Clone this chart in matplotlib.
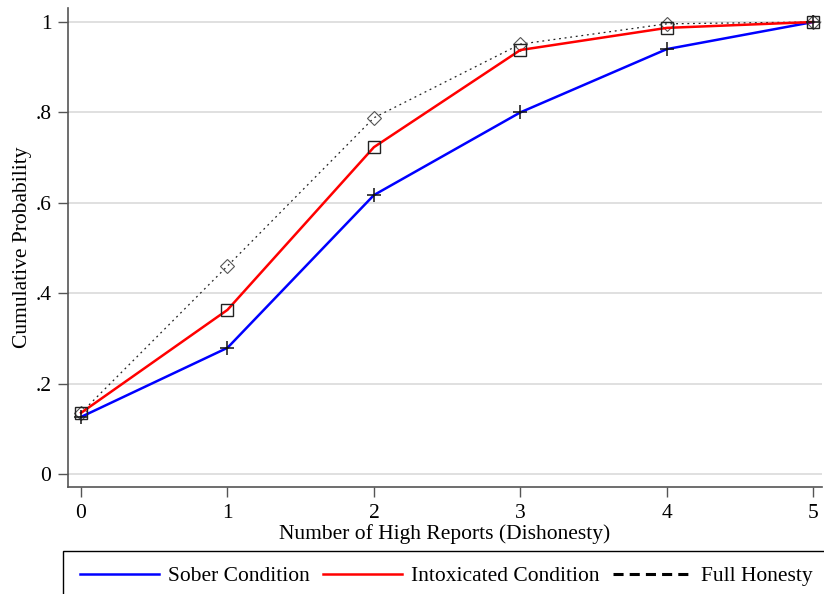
import matplotlib.pyplot as plt
from matplotlib.lines import Line2D
from matplotlib.patches import Rectangle

plt.rcParams['font.family'] = ['Liberation Serif', 'DejaVu Serif']

reports = [0, 1, 2, 3, 4, 5]
sober = [0.126, 0.279, 0.617, 0.800, 0.940, 1.0]
intox = [0.135, 0.363, 0.723, 0.938, 0.987, 1.0]
honest = [0.135, 0.460, 0.788, 0.951, 0.996, 1.0]

yticks = [0, 0.2, 0.4, 0.6, 0.8, 1.0]
ylabels = ['0', '.2', '.4', '.6', '.8', '1']

fig = plt.figure(figsize=(8.24, 5.94), dpi=100)
ax = fig.add_axes([68 / 824, 107 / 594, 754 / 824, 479 / 594])

ax.plot(reports, honest, color='#222222', linestyle=(0, (1.5, 3)), linewidth=0.9,
        marker='D', markersize=7, markerfacecolor='none', markeredgecolor='#555555',
        markeredgewidth=0.8, zorder=3)
ax.plot(reports, sober, color='blue', linewidth=1.8, zorder=4)
ax.plot(reports, sober, linestyle='none', marker='+', markersize=10,
        markeredgecolor='#111111', markeredgewidth=1.1, zorder=5)
ax.plot(reports, intox, color='red', linewidth=1.8, zorder=4)
ax.plot(reports, intox, linestyle='none', marker='s', markersize=9,
        markerfacecolor='none', markeredgecolor='#222222', markeredgewidth=1.0, zorder=5)

ax.set_xlim(-0.089, 5.06)
ax.set_ylim(-0.029, 1.031)
ax.set_xticks(reports)
ax.set_yticks(yticks)
ax.set_yticklabels(ylabels)
ax.grid(axis='y', color='#dddddd', linewidth=1.3)
ax.set_axisbelow(True)
for s in ['top', 'right']:
    ax.spines[s].set_visible(False)
for s in ['left', 'bottom']:
    ax.spines[s].set_color('#555555')
    ax.spines[s].set_linewidth(1.2)
ax.tick_params(direction='out', length=7, width=1.0, color='#555555',
               labelsize=15.5, pad=5)
ax.set_xlabel('Number of High Reports (Dishonesty)', fontsize=15.5, labelpad=1)
ax.set_ylabel('Cumulative Probability', fontsize=15.5, labelpad=2)

# legend box runs off the right and bottom edges like the original
fig.patches.append(Rectangle((63 / 824, -0.05), 0.95, 0.05 + 43 / 594,
                             transform=fig.transFigure, fill=False,
                             edgecolor='black', linewidth=1.0))

handles = [Line2D([], [], color='blue', linewidth=1.8),
           Line2D([], [], color='red', linewidth=1.8),
           Line2D([], [], color='black', linestyle=(0, (3.3, 2.0)), linewidth=2.2)]
labels = ['Sober Condition', 'Intoxicated Condition', 'Full Honesty']
leg = fig.legend(handles, labels, loc='center left', bbox_to_anchor=(80 / 824, 1 - 576 / 594),
                 ncol=3, fontsize=15.5, handlelength=3.65, handletextpad=0.45,
                 columnspacing=0.6, frameon=False, borderpad=0, borderaxespad=0)

fig.savefig('out.png', dpi=100)
